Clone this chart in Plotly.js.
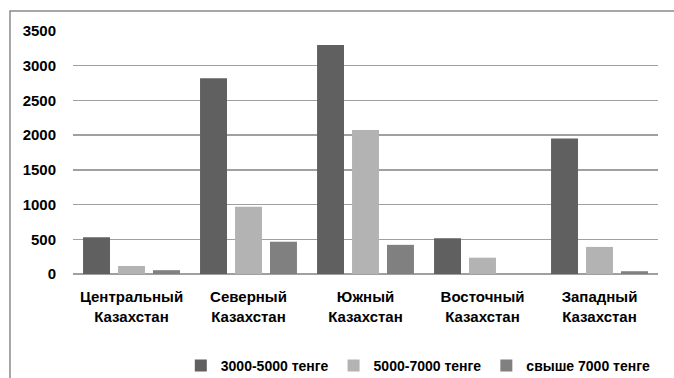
<!DOCTYPE html>
<html>
<head>
<meta charset="utf-8">
<script src="https://cdn.plot.ly/plotly-3.0.1.min.js"></script>
<style>html,body{margin:0;padding:0;background:#fff;}#chart{width:674px;height:378px;}</style>
</head>
<body>
<div id="chart"></div>
<script>
const categories = ["Центральный<br>Казахстан", "Северный<br>Казахстан", "Южный<br>Казахстан", "Восточный<br>Казахстан", "Западный<br>Казахстан"];
const seriesNames = ["3000-5000 тенге", "5000-7000 тенге", "свыше 7000 тенге"];
const s1 = [530, 2820, 3300, 515, 1950];
const s2 = [115, 970, 2075, 235, 390];
const s3 = [55, 465, 420, 0, 40];
const tickVals = [0, 500, 1000, 1500, 2000, 2500, 3000, 3500];
const colors = ["#606060", "#b3b3b3", "#808080"];

const fam = "Liberation Sans, Arial, sans-serif";
const data = [s1, s2, s3].map((v, i) => ({
  type: "bar", x: categories, y: v, name: seriesNames[i],
  marker: {color: colors[i]}
}));
const W = 674, H = 378, ml = 73, mr = 16, mt = 31, mb = 104;
const pw = W - ml - mr, ph = H - mt - mb;
const layout = {
  width: W, height: H,
  margin: {l: ml, r: mr, t: mt, b: mb, pad: 0, autoexpand: false},
  paper_bgcolor: "#fff", plot_bgcolor: "#fff",
  barmode: "group", bargap: 0.103, bargroupgap: 0.23,
  font: {family: fam, size: 14, color: "#000"},
  showlegend: true,
  legend: {orientation: "h", xref: "container", yref: "container", x: 0.973, xanchor: "right", y: 12 / H, yanchor: "middle",
           font: {family: fam, size: 14, color: "#000", weight: "bold"}, traceorder: "normal", itemwidth: 30, tracegroupgap: 0},
  xaxis: {automargin: false, showgrid: false, zeroline: false, showline: false, ticks: "",
          tickfont: {family: fam, size: 15, color: "#000", weight: "bold"}, ticklabelstandoff: 12, fixedrange: true},
  yaxis: {automargin: false, range: [0, 3500], tickvals: tickVals, ticktext: tickVals.map(String), showgrid: true, gridcolor: "#a0a0a0", gridwidth: 1.5,
          zeroline: true, zerolinecolor: "#a0a0a0", zerolinewidth: 1.5, showline: false, ticks: "",
          tickfont: {family: fam, size: 15, color: "#000", weight: "bold"}, ticklabelstandoff: 16, fixedrange: true},
  shapes: [{type: "rect", xref: "paper", yref: "paper",
            x0: (10 - ml) / pw, x1: (W + 20 - ml) / pw,
            y0: -(H + 20 - mt - ph) / ph, y1: (H - 11 - mb) / ph,
            line: {color: "#8a8a8a", width: 1.5}, fillcolor: "rgba(0,0,0,0)", layer: "below"}]
};
Plotly.newPlot("chart", data, layout, {displayModeBar: false, staticPlot: true});
</script>
</body>
</html>
